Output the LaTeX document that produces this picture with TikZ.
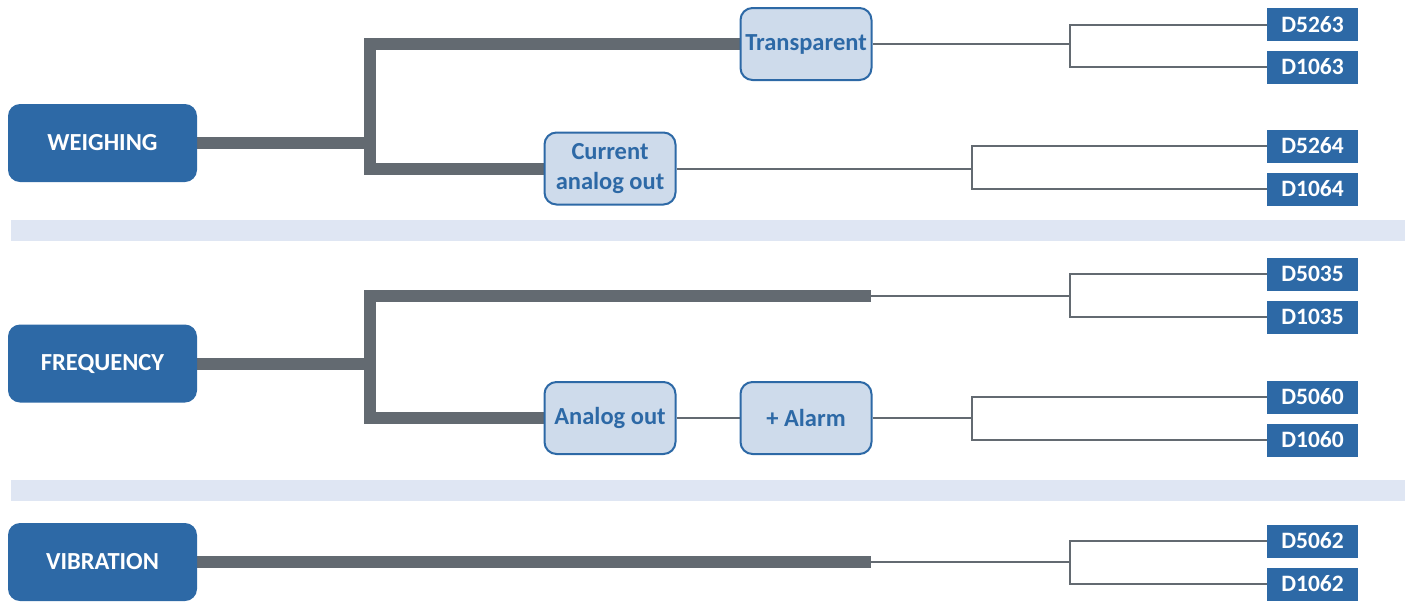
\documentclass[tikz,border=0pt]{standalone}
\usepackage{fontspec}
\setmainfont{Carlito}
\usepackage{tikz}
\usetikzlibrary{backgrounds}
\definecolor{dkblue}{HTML}{2D69A6}
\definecolor{ltblue}{HTML}{CEDBEB}
\definecolor{bandblue}{HTML}{DFE6F3}
\definecolor{trunkgray}{HTML}{636A71}

\begin{document}
\begin{tikzpicture}[
  x=1pt,y=-1pt,
  cat/.style={rectangle, fill=dkblue, rounded corners=12pt, minimum width=189pt, minimum height=78pt, inner sep=0pt, text=white, font=\fontsize{24.5}{30}\selectfont\bfseries},
  opt/.style={rectangle, draw=dkblue, fill=ltblue, line width=2pt, rounded corners=12pt, minimum width=131pt, minimum height=72pt, inner sep=0pt, align=center, text=dkblue, font=\fontsize{24.5}{30}\selectfont\bfseries},
  code/.style={rectangle, fill=dkblue, minimum width=91pt, minimum height=33pt, inner sep=0pt, text=white, font=\fontsize{23.5}{29}\selectfont\bfseries},
  trunk/.style={draw=trunkgray, line width=12pt},
  wire/.style={draw=trunkgray, line width=2pt},
  band/.style={fill=bandblue}
]
\useasboundingbox (0,0) rectangle (1417,603);

% ================= Weighing =================
\node[cat] (weigh) at (102.5,143) {WEIGHING};
\node[opt] (transp) at (806,44) {Transparent};
\node[opt] (curr) at (610,168.5) {Current\\analog out};

\node[code] (d5263) at (1312.5,24.5) {D5263};
\node[code] (d1063) at (1312.5,67) {D1063};
\node[code] (d5264) at (1312.5,146) {D5264};
\node[code] (d1064) at (1312.5,189) {D1064};

\coordinate (wsplit) at (370,143);
\coordinate (tsplit) at (1070,44);
\coordinate (csplit) at (972,168.5);

% ================= Frequency =================
\node[cat] (freq) at (102.5,363.5) {FREQUENCY};
\node[opt] (analog) at (610,418) {Analog out};
\node[opt] (alarm) at (806,418) {+ Alarm};

\node[code] (d5035) at (1312.5,274) {D5035};
\node[code] (d1035) at (1312.5,317) {D1035};
\node[code] (d5060) at (1312.5,397) {D5060};
\node[code] (d1060) at (1312.5,440) {D1060};

\coordinate (fsplit) at (370,363.5);
\coordinate (fend) at (871,296);
\coordinate (fsplit1) at (1070,296);
\coordinate (asplit) at (972,418);

% ================= Vibration =================
\node[cat] (vib) at (102.5,562) {VIBRATION};

\node[code] (d5062) at (1312.5,541) {D5062};
\node[code] (d1062) at (1312.5,584) {D1062};

\coordinate (vend) at (871,562);
\coordinate (vsplit) at (1070,562);

% connectors and separators behind the boxes
\begin{scope}[on background layer]
  \fill[band] (11,220) rectangle (1405,241);
  \fill[band] (11,480) rectangle (1405,501);

  \draw[trunk] (weigh.east) -- (wsplit);
  \draw[trunk] (transp.west) -| (wsplit) |- (curr.west);
  \draw[wire] (transp.east) -- (tsplit);
  \draw[wire] (curr.east) -- (csplit);
  \draw[wire] (d5263.west) -| (tsplit) |- (d1063.west);
  \draw[wire] (d5264.west) -| (csplit) |- (d1064.west);

  \draw[trunk] (freq.east) -- (fsplit);
  \draw[trunk] (fend) -| (fsplit) |- (analog.west);
  \draw[wire] (fend) -- (fsplit1);
  \draw[wire] (analog.east) -- (alarm.west);
  \draw[wire] (alarm.east) -- (asplit);
  \draw[wire] (d5035.west) -| (fsplit1) |- (d1035.west);
  \draw[wire] (d5060.west) -| (asplit) |- (d1060.west);

  \draw[trunk] (vib.east) -- (vend);
  \draw[wire] (vend) -- (vsplit);
  \draw[wire] (d5062.west) -| (vsplit) |- (d1062.west);
\end{scope}
\end{tikzpicture}
\end{document}
